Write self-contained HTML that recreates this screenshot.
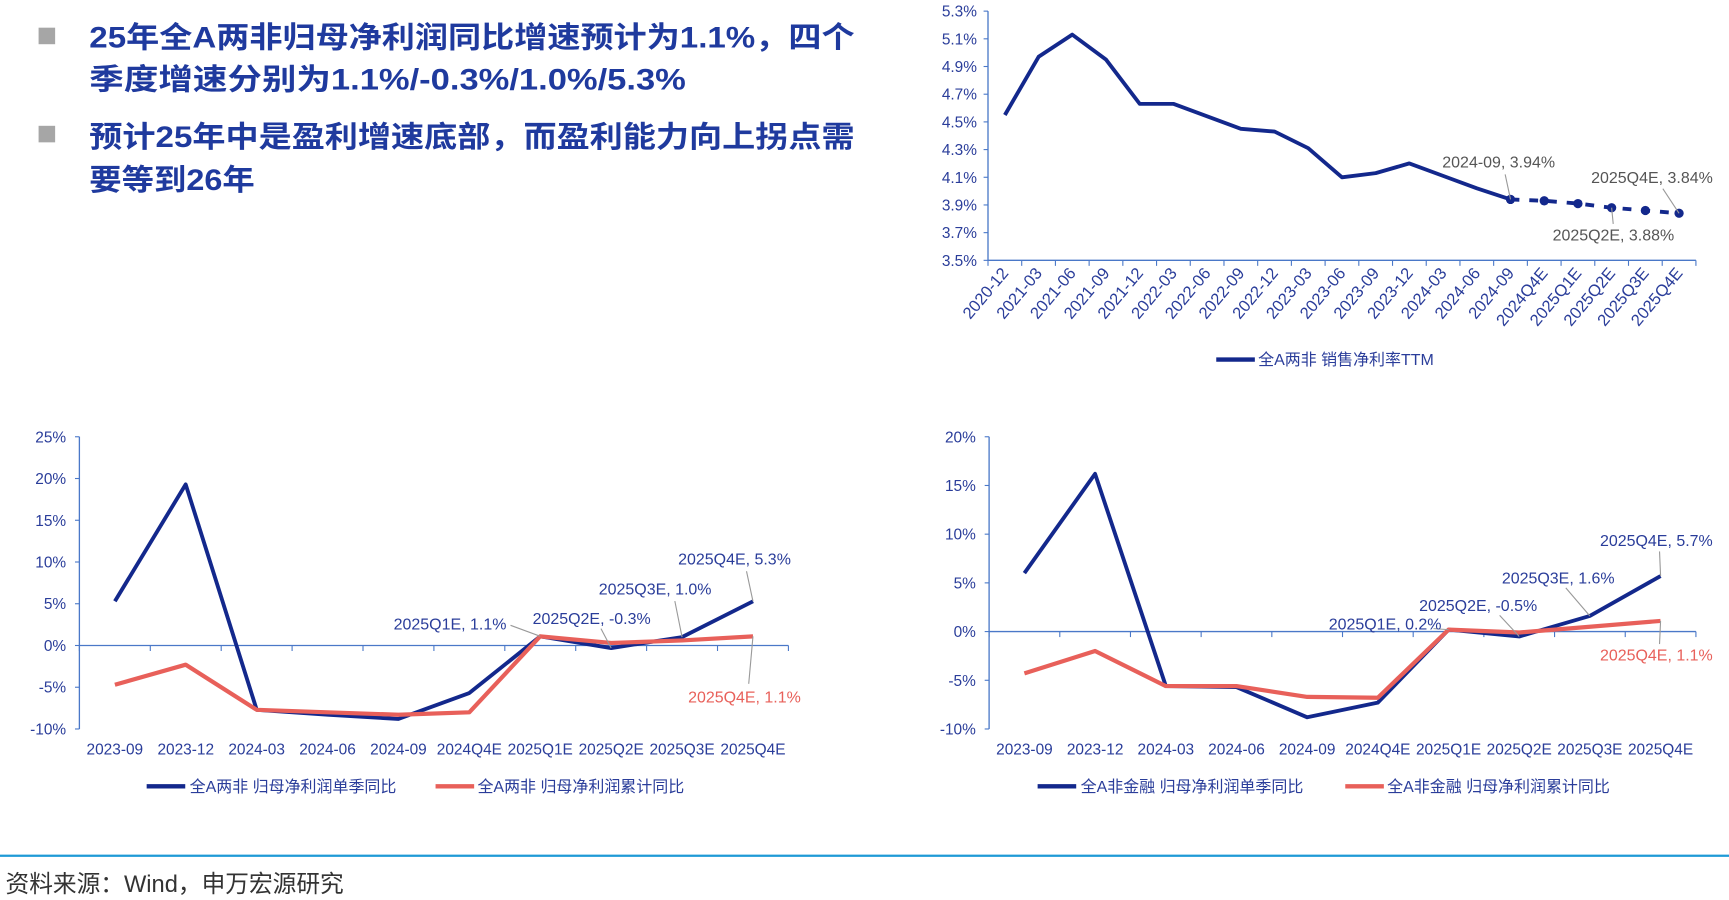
<!DOCTYPE html>
<html><head><meta charset="utf-8">
<style>
html,body{margin:0;padding:0;background:#fff;width:1729px;height:900px;overflow:hidden}
svg{display:block}
.tk{font-family:"Liberation Sans Narrow","Liberation Sans",sans-serif;font-size:14px;fill:#2a3d9a}
.tkr{font-family:"Liberation Sans Narrow","Liberation Sans",sans-serif;font-size:15px;fill:#2a3d9a}
.an{font-family:"Liberation Sans Narrow","Liberation Sans",sans-serif;font-size:14.5px;fill:#2a3d9a}
.anr{font-family:"Liberation Sans Narrow","Liberation Sans",sans-serif;font-size:14.5px;fill:#e8605a}
.ang{font-family:"Liberation Sans Narrow","Liberation Sans",sans-serif;font-size:14.5px;fill:#555}
.lg{font-family:"Liberation Sans Narrow","Liberation Sans","Noto Sans CJK SC",sans-serif;font-size:14.5px;fill:#2a3d9a}
.hd{font-family:"Liberation Sans","Noto Sans CJK SC",sans-serif;font-size:27px;font-weight:bold;fill:#1f3a9e}
.src{font-family:"Liberation Sans","Noto Sans CJK SC",sans-serif;font-size:21.5px;fill:#333}
</style></head>
<body>
<svg id="root" width="1729" height="900" viewBox="0 0 1568 816" xmlns="http://www.w3.org/2000/svg">
  <rect x="35" y="25" width="15" height="15" fill="#a6a6a6"/>
  <rect x="35" y="114" width="15" height="15" fill="#a6a6a6"/>
  <text class="hd" x="81" y="43" textLength="694" lengthAdjust="spacingAndGlyphs">25年全A两非归母净利润同比增速预计为1.1%，四个</text>
  <text class="hd" x="81" y="81" textLength="541" lengthAdjust="spacingAndGlyphs">季度增速分别为1.1%/-0.3%/1.0%/5.3%</text>
  <text class="hd" x="81" y="133" textLength="694" lengthAdjust="spacingAndGlyphs">预计25年中是盈利增速底部，而盈利能力向上拐点需</text>
  <text class="hd" x="81" y="172" textLength="150" lengthAdjust="spacingAndGlyphs">要等到26年</text>
  <g id="c1"></g>
  <g id="c2"></g>
  <g id="c3"></g>
  <line x1="0" y1="776" x2="1568" y2="776" stroke="#1e9ad6" stroke-width="2"/>
  <text class="src" x="5" y="809">资料来源：Wind，申万宏源研究</text>
</svg>
<script>
// Chart 1: net margin TTM
const c1Cats = ["2020-12","2021-03","2021-06","2021-09","2021-12","2022-03","2022-06","2022-09","2022-12","2023-03","2023-06","2023-09","2023-12","2024-03","2024-06","2024-09","2024Q4E","2025Q1E","2025Q2E","2025Q3E","2025Q4E"];
const c1Vals = [4.55,4.97,5.13,4.95,4.63,4.63,4.54,4.45,4.43,4.31,4.10,4.13,4.20,4.11,4.02,3.94,3.93,3.91,3.88,3.86,3.84];
const c1Ticks = [3.5,3.7,3.9,4.1,4.3,4.5,4.7,4.9,5.1,5.3];
// Chart 2: 全A两非
const c2Cats = ["2023-09","2023-12","2024-03","2024-06","2024-09","2024Q4E","2025Q1E","2025Q2E","2025Q3E","2025Q4E"];
const c2Single = [5.3,19.3,-7.7,-8.3,-8.8,-5.7,1.1,-0.3,1.0,5.3];
const c2Cum = [-4.7,-2.3,-7.7,-8.0,-8.3,-8.0,1.1,0.3,0.6,1.1];
const c2Ticks = [-10,-5,0,5,10,15,20,25];
// Chart 3: 全A非金融
const c3Cats = ["2023-09","2023-12","2024-03","2024-06","2024-09","2024Q4E","2025Q1E","2025Q2E","2025Q3E","2025Q4E"];
const c3Single = [6.0,16.2,-5.6,-5.7,-8.8,-7.3,0.2,-0.5,1.6,5.7];
const c3Cum = [-4.3,-2.0,-5.6,-5.6,-6.7,-6.8,0.2,-0.1,0.5,1.1];
const c3Ticks = [-10,-5,0,5,10,15,20];

const NS="http://www.w3.org/2000/svg";
const BLUE="#13288c", RED="#e8605a", AX="#4a78c8";
function mk(p,tag,attrs){const e=document.createElementNS(NS,tag);for(const k in attrs)e.setAttribute(k,attrs[k]);p.appendChild(e);return e;}
function scaleY(min,max,top,bot){return v=>bot-(v-min)/(max-min)*(bot-top);}
function pathD(xs,ys){return xs.map((x,i)=>(i?"L":"M")+x.toFixed(1)+","+ys[i].toFixed(1)).join("");}

// ---- chart 1
(function(){
  const g=document.getElementById("c1");
  const L=896,R=1538,T=10,B=236,n=c1Cats.length;
  const y=scaleY(3.5,5.3,T,B);
  const step=(R-L)/n; const x=i=>L+step*(i+0.5);
  let e=mk(g,"line",{x1:L,y1:T,x2:L,y2:B,stroke:AX,"stroke-width":1.2});
  
  
  e=mk(g,"line",{x1:L,y1:B,x2:R,y2:B,stroke:AX,"stroke-width":1.2});
  
  
  c1Ticks.forEach(t=>{
    mk(g,"line",{x1:L-4,y1:y(t),x2:L,y2:y(t),stroke:AX});
    const tx=mk(g,"text",{x:L-10,y:y(t)+5,"text-anchor":"end",class:"tk"});tx.textContent=t.toFixed(1)+"%";
    
    
  });
  for(let i=0;i<=n;i++) mk(g,"line",{x1:L+step*i,y1:B,x2:L+step*i,y2:B+5,stroke:AX});
  c1Cats.forEach((c,i)=>{
    const tx=mk(g,"text",{x:x(i)+4,y:B+12,"text-anchor":"end",class:"tkr",transform:`rotate(-50 ${x(i)+4} ${B+12})`});tx.textContent=c;
    
    
  });
  const xs=c1Vals.map((v,i)=>x(i)), ys=c1Vals.map(v=>y(v));
  e=mk(g,"path",{d:pathD(xs.slice(0,16),ys.slice(0,16)),fill:"none",stroke:BLUE,"stroke-width":3.5,"stroke-linejoin":"round"});
  
  
  e=mk(g,"path",{d:pathD(xs.slice(15),ys.slice(15)),fill:"none",stroke:BLUE,"stroke-width":3.5,"stroke-dasharray":"8 9"});
  
  
  for(let i=15;i<n;i++){const d=mk(g,"circle",{cx:xs[i],cy:ys[i],r:4.2,fill:BLUE});
    
    }
  const lbl=(txt,tx,ty,lx1,ly1,i)=>{mk(g,"line",{x1:lx1,y1:ly1,x2:xs[i],y2:ys[i],stroke:"#999"});
    const t=mk(g,"text",{x:tx,y:ty,class:"ang"});t.textContent=txt;
    
    };
  lbl("2024-09, "+c1Vals[15].toFixed(2)+"%",1308,152,1365,158,15);
  lbl("2025Q4E, "+c1Vals[20].toFixed(2)+"%",1443,166,1508,171,20);
  lbl("2025Q2E, "+c1Vals[18].toFixed(2)+"%",1408,218,1463,203,18);
  e=mk(g,"line",{x1:1103,y1:326,x2:1138,y2:326,stroke:BLUE,"stroke-width":4});
  
  
  e=mk(g,"text",{x:1141,y:331,class:"lg"});e.textContent="全A两非 销售净利率TTM";
  
  
})();

function growth(id,cats,s1,s2,ticks,L,R,T,B,min,max,labels,leg){
  const g=document.getElementById(id);
  const y=scaleY(min,max,T,B), n=cats.length, step=(R-L)/n, x=i=>L+step*(i+0.5);
  let e=mk(g,"line",{x1:L,y1:T,x2:L,y2:B,stroke:AX,"stroke-width":1.2});
  
  
  e=mk(g,"line",{x1:L,y1:y(0),x2:R,y2:y(0),stroke:AX,"stroke-width":1.2});
  
  
  ticks.forEach(t=>{
    mk(g,"line",{x1:L-4,y1:y(t),x2:L,y2:y(t),stroke:AX});
    const tx=mk(g,"text",{x:L-12,y:y(t)+5,"text-anchor":"end",class:"tk"});tx.textContent=t+"%";
    
    
  });
  for(let i=0;i<=n;i++) mk(g,"line",{x1:L+step*i,y1:y(0),x2:L+step*i,y2:y(0)+5,stroke:AX});
  cats.forEach((c,i)=>{const tx=mk(g,"text",{x:x(i),y:B+23,"text-anchor":"middle",class:"tk"});tx.textContent=c;
    
    });
  const xs=cats.map((c,i)=>x(i));
  e=mk(g,"path",{d:pathD(xs,s1.map(y)),fill:"none",stroke:BLUE,"stroke-width":3.5,"stroke-linejoin":"round"});
  
  
  e=mk(g,"path",{d:pathD(xs,s2.map(y)),fill:"none",stroke:RED,"stroke-width":3.8,"stroke-linejoin":"round"});
  
  
  labels.forEach(l=>{
    const v=(l.red?s2:s1)[l.i];
    mk(g,"line",{x1:l.lx,y1:l.ly,x2:xs[l.i],y2:y(v),stroke:"#999"});
    const t=mk(g,"text",{x:l.tx,y:l.ty,class:l.red?"anr":"an"});t.textContent=cats[l.i]+", "+v.toFixed(1)+"%";
    
    
  });
  e=mk(g,"line",{x1:leg[0],y1:B+52,x2:leg[0]+35,y2:B+52,stroke:BLUE,"stroke-width":4});
  
  
  e=mk(g,"text",{x:leg[0]+39,y:B+57,class:"lg"});e.textContent=leg[2];
  
  
  e=mk(g,"line",{x1:leg[1],y1:B+52,x2:leg[1]+35,y2:B+52,stroke:RED,"stroke-width":4});
  
  
  e=mk(g,"text",{x:leg[1]+38,y:B+57,class:"lg"});e.textContent=leg[3];
  
  
}
growth("c2",c2Cats,c2Single,c2Cum,c2Ticks,72,715,396,661,-10,25,[
  {i:6,tx:357,ty:571,lx:463,ly:567},
  {i:7,tx:483,ty:566,lx:545,ly:570},
  {i:8,tx:543,ty:539,lx:612,ly:545},
  {i:9,tx:615,ty:512,lx:677,ly:518},
  {i:9,red:true,tx:624,ty:637,lx:679,ly:620}
],[133,395,"全A两非 归母净利润单季同比","全A两非 归母净利润累计同比"]);
growth("c3",c3Cats,c3Single,c3Cum,c3Ticks,897,1538,396,661,-10,20,[
  {i:6,tx:1205,ty:571,lx:1300,ly:570},
  {i:7,tx:1287,ty:554,lx:1360,ly:558},
  {i:8,tx:1362,ty:529,lx:1420,ly:533},
  {i:9,tx:1451,ty:495,lx:1505,ly:500},
  {i:9,red:true,tx:1451,ty:599,lx:1505,ly:584}
],[941,1220,"全A非金融 归母净利润单季同比","全A非金融 归母净利润累计同比"]);
</script>
</body></html>
